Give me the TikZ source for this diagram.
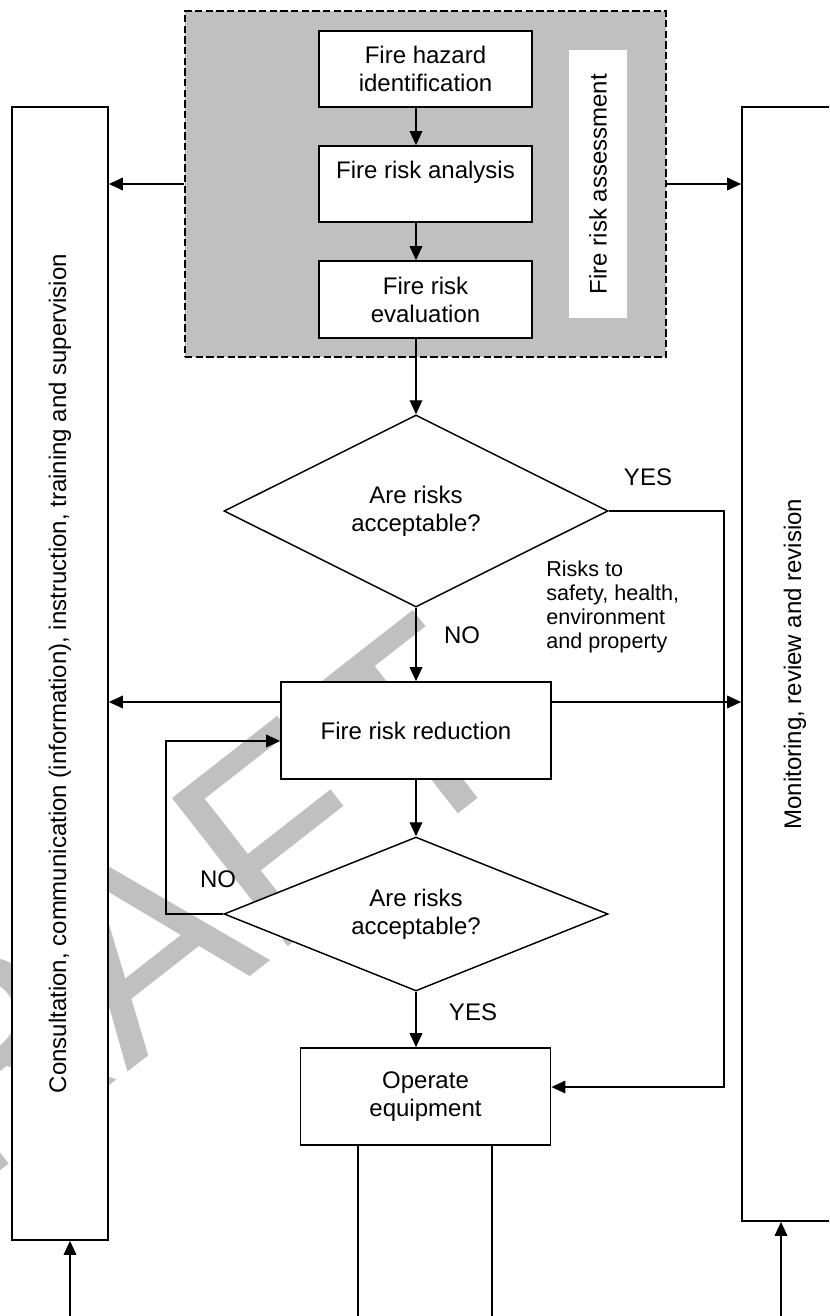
\documentclass[tikz,border=0pt]{standalone}
\usepackage{fontspec}
\setmainfont{Liberation Sans}
\usetikzlibrary{shapes.geometric,arrows.meta}
\definecolor{wm}{RGB}{192,192,192}
\newcommand\mfnt{\fontsize{18}{21}\selectfont}
\newcommand\sfnt{\fontsize{16.2}{18}\selectfont}
\begin{document}
\begin{tikzpicture}[x=0.75pt,y=-0.75pt,
  box/.style={draw,fill=white,line width=1.3pt,inner sep=0pt,align=center,font=\mfnt},
  dia/.style={diamond,draw,fill=white,line width=1.1pt,inner sep=0pt,aspect=2.5,align=center,font=\mfnt},
  lbl/.style={inner sep=0pt,font=\mfnt},
  arr/.style={line width=1pt,-{Triangle[length=10.5pt,width=9.5pt]}},
  ln/.style={line width=1pt}]
\useasboundingbox (0,0) rectangle (829,1316);
\clip (0,0) rectangle (829,1316);
% watermark
\node[text=wm,anchor=base,rotate=38,inner sep=0pt,font=\fontsize{205}{205}\selectfont] (wmark) at (175,1035) {DRAFT};
% assessment frame
\node[draw,dashed,dash pattern=on 5.5pt off 2.5pt,fill=wm,line width=1pt,minimum width=360.75pt,minimum height=259.5pt,inner sep=0pt] (frame) at (425.5,184) {};
\node[box] (h1) at (425.5,69) [minimum width=159.75pt,minimum height=57pt] {Fire hazard\\identification};
\node[box] (h2) at (425.5,184) [minimum width=159.75pt,minimum height=57pt] {Fire risk analysis\\\phantom{x}};
\node[box] (h3) at (425.5,299.5) [minimum width=159.75pt,minimum height=57.75pt] {Fire risk\\evaluation};
\node[fill=white,rotate=90,minimum width=201pt,minimum height=43.5pt,inner sep=0pt,font=\mfnt] (lab) at (598,184) {Fire risk assessment};
% side boxes
\node[box,rotate=90,minimum width=849.75pt,minimum height=72pt] (lbox) at (60,673.5) {Consultation, communication (information), instruction, training and supervision};
\node[box,rotate=90,minimum width=835.5pt,minimum height=79.5pt] (rbox) at (795,664) {Monitoring, review and revision};
% decisions and boxes
\node[dia,minimum width=288pt,minimum height=144pt] (d1) at (416,511) {Are risks\\acceptable?};
\node[box,minimum width=202.5pt,minimum height=72.75pt] (red) at (416,730.5) {Fire risk reduction};
\node[dia,minimum width=288pt,minimum height=115.5pt] (d2) at (416,914) {Are risks\\acceptable?};
\node[box,minimum width=187.5pt,minimum height=72.75pt] (op) at (425.5,1096.5) {Operate\\equipment};
% labels
\node[lbl] (yes1) at (648,477) {YES};
\node[lbl] (no1) at (462,635) {NO};
\node[lbl] (no2) at (218,879) {NO};
\node[lbl] (yes2) at (473,1012) {YES};
\node[inner sep=0pt,anchor=west,align=left,font=\sfnt] (risks) at (546,607) {Risks to\\safety, health,\\environment\\and property};
% coordinates
\coordinate (hl) at (0,702);
\coordinate (yc) at (724,511);
\coordinate (yb) at (724,1087);
\coordinate (fb) at (166,741);
\coordinate (b1) at (358,1316);
\coordinate (b2) at (492,1316);
\coordinate (lb) at (70,1316);
\coordinate (rb) at (781,1316);
% connectors
\draw[arr] (h1.south -| d1.north) -- (h2.north -| d1.north);
\draw[arr] (h2.south -| d1.north) -- (h3.north -| d1.north);
\draw[arr] (h3.south -| d1.north) -- (d1.north);
\draw[arr] (frame.west) -- (frame.west -| lbox.south);
\draw[arr] (frame.east) -- (frame.east -| rbox.north);
\draw[arr] (d1.south) -- (red.north);
\draw[arr] (d1.east) -- (yc) -- (yb) -- (yb -| op.east);
\draw[arr] (red.west |- hl) -- (lbox.south |- hl);
\draw[arr] (red.east |- hl) -- (rbox.north |- hl);
\draw[arr] (red.south) -- (d2.north);
\draw[arr] (d2.west) -| (fb) -- (fb -| red.west);
\draw[arr] (d2.south) -- (d2.south |- op.north);
\draw[ln] (op.south -| b1) -- (b1);
\draw[ln] (op.south -| b2) -- (b2);
\draw[arr] (lb) -- (lb |- lbox.west);
\draw[arr] (rb) -- (rb |- rbox.west);
\end{tikzpicture}
\end{document}
